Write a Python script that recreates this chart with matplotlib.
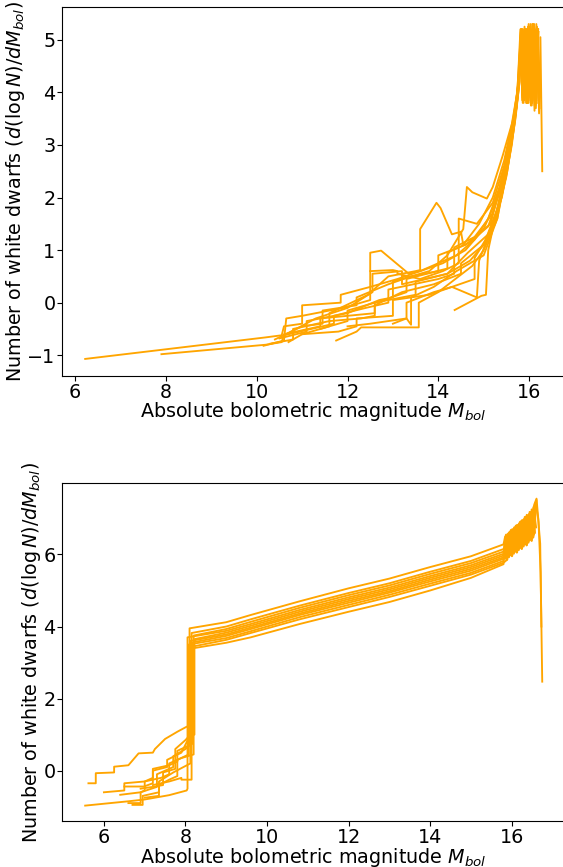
import matplotlib
matplotlib.use("Agg")
import matplotlib.pyplot as plt

# ---- upper panel: stepped luminosity-function runs ----
t1_x = [6.22, 10.2, 10.55, 10.6, 11.0, 11.0, 11.9, 12.5, 12.5, 13.1, 13.6, 14.0, 14.4, 14.8, 15.1, 15.35, 15.58, 15.72, 15.81,
        15.84, 15.88, 15.93, 15.97, 16.02, 16.06, 16.11, 16.15, 16.20]
t1_y = [-1.07, -0.66, -0.62, -0.45, -0.4, -0.25, -0.1, 0.05, 0.3, 0.45, 0.6, 0.75, 0.9, 1.2, 1.6, 2.2, 3.0, 3.7, 4.6,
        5.15, 3.9, 5.2, 3.85, 5.2, 3.8, 5.25, 3.9, 5.2]

t2_x = [7.9, 10.2, 10.55, 10.6, 11.4, 11.4, 12.6, 12.6, 13.5, 13.5, 14.2, 14.7, 15.0, 15.3, 15.52, 15.7, 15.79,
        15.83, 15.86, 15.9, 15.95, 15.99, 16.04, 16.08, 16.13, 16.17, 16.22, 16.25, 16.29]
t2_y = [-0.98, -0.8, -0.75, -0.6, -0.45, -0.3, -0.2, 0.0, 0.15, 0.4, 0.55, 0.8, 1.1, 1.7, 2.5, 3.5, 4.2,
        5.1, 3.85, 5.15, 3.8, 5.2, 3.75, 5.3, 3.7, 5.25, 3.6, 5.05, 2.5]

t3_x = [10.15, 10.6, 10.65, 11.0, 11.0, 11.85, 11.85, 12.5, 12.5, 12.74, 13.35, 13.6, 14.1, 14.6, 15.0, 15.3, 15.5, 15.68, 15.78,
        15.82, 15.85, 15.89, 15.94, 15.98, 16.03, 16.07, 16.12, 16.16, 16.21]
t3_y = [-0.82, -0.72, -0.3, -0.25, -0.05, 0.0, 0.15, 0.3, 0.95, 0.99, 0.55, 0.6, 0.75, 1.0, 1.4, 2.0, 2.7, 3.5, 4.3,
        5.2, 3.95, 5.15, 3.8, 5.25, 3.85, 5.3, 3.65, 5.2, 3.9]

t4_x = [10.7, 11.0, 11.6, 11.6, 12.45, 12.9, 13.5, 13.6, 13.6, 13.96, 14.05, 14.3, 14.5, 14.55, 14.9, 15.2, 15.45, 15.65, 15.76,
        15.83, 15.87, 15.91, 15.96, 16.0, 16.05, 16.09, 16.14, 16.18]
t4_y = [-0.75, -0.6, -0.45, -0.2, 0.15, 0.5, 0.6, 0.62, 1.4, 1.9, 1.8, 1.3, 1.35, 1.1, 1.5, 2.0, 2.7, 3.5, 4.1,
        5.1, 3.85, 5.2, 3.8, 5.15, 3.9, 5.25, 3.75, 5.2]

t5_x = [10.5, 11.1, 11.1, 12.0, 12.7, 13.0, 13.0, 13.8, 14.2, 14.55, 14.63, 14.75, 15.07, 15.2, 15.42, 15.62, 15.74,
        15.82, 15.86, 15.9, 15.95, 15.99, 16.04, 16.08, 16.13, 16.17, 16.22]
t5_y = [-0.68, -0.55, -0.35, -0.2, 0.05, 0.1, 0.4, 0.6, 0.9, 1.4, 2.2, 2.1, 1.98, 2.2, 2.8, 3.4, 4.0,
        5.15, 3.9, 5.2, 3.85, 5.3, 3.8, 5.2, 3.9, 5.25, 3.8]

t6_x = [11.75, 12.2, 12.3, 13.57, 13.57, 14.0, 14.3, 14.75, 15.0, 15.3, 15.55, 15.7, 15.8,
        15.84, 15.88, 15.92, 15.97, 16.01, 16.06, 16.1, 16.15, 16.19, 16.23]
t6_y = [-0.72, -0.55, -0.47, -0.47, 0.0, 0.2, 0.4, 0.7, 1.0, 1.6, 2.8, 3.6, 4.5,
        5.2, 3.8, 5.1, 3.9, 5.2, 3.75, 5.3, 3.85, 5.2, 3.7]

t7_x = [14.36, 14.95, 15.05, 15.1, 15.3, 15.48, 15.66, 15.77,
        15.83, 15.87, 15.91, 15.96, 16.0, 16.05, 16.09, 16.14]
t7_y = [-0.14, 0.13, 0.15, 1.0, 1.8, 2.5, 3.4, 4.1,
        5.05, 3.9, 5.2, 3.85, 5.15, 3.8, 5.2, 3.9]

t8_x = [13.0, 13.3, 13.3, 13.9, 14.3, 14.85, 14.9, 15.25, 15.5, 15.7, 15.79,
        15.84, 15.88, 15.93, 15.97, 16.02, 16.06, 16.11, 16.15, 16.2]
t8_y = [-0.4, -0.3, 0.0, 0.2, 0.3, 0.1, 0.8, 1.6, 2.5, 3.7, 4.4,
        5.2, 3.9, 5.2, 3.8, 5.15, 3.85, 5.3, 3.7, 5.2]

t9_x = [10.4, 11.0, 11.45, 11.45, 12.2, 12.2, 12.9, 13.4, 14.0, 14.0, 14.6, 15.15, 15.4, 15.62, 15.75,
        15.82, 15.86, 15.9, 15.95, 15.99, 16.04, 16.08, 16.13, 16.17]
t9_y = [-0.7, -0.45, -0.4, -0.15, -0.05, 0.1, 0.35, 0.5, 0.6, 0.9, 1.1, 1.5, 2.3, 3.2, 4.0,
        5.1, 3.8, 5.25, 3.9, 5.2, 3.8, 5.15, 3.85, 5.2]

t10_x = [10.3, 10.8, 10.8, 11.6, 12.3, 12.6, 12.6, 13.2, 13.9, 14.5, 14.5, 15.0, 15.35, 15.58, 15.73,
         15.81, 15.85, 15.89, 15.94, 15.98, 16.03, 16.07, 16.12, 16.16, 16.21]
t10_y = [-0.78, -0.7, -0.5, -0.35, -0.3, -0.25, -0.05, 0.2, 0.35, 0.55, 0.75, 1.1, 1.9, 2.9, 3.8,
         5.2, 3.85, 5.2, 3.8, 5.25, 3.9, 5.2, 3.75, 5.3, 3.85]

t11_x = [12.5, 13.0, 13.1, 13.1, 13.6, 14.1, 14.45, 14.45, 14.85, 15.2, 15.45, 15.66, 15.78,
         15.83, 15.87, 15.91, 15.96, 16.0, 16.05, 16.09, 16.14]
t11_y = [0.6, 0.62, 0.6, 0.55, 0.45, 0.6, 0.75, 1.6, 1.5, 1.9, 2.6, 3.5, 4.3,
         5.2, 3.9, 5.15, 3.8, 5.2, 3.85, 5.25, 3.8]

t12_x = [11.0, 11.8, 12.2, 12.2, 13.0, 13.0, 13.8, 14.3, 14.8, 14.8, 15.25, 15.5, 15.68, 15.79,
         15.84, 15.88, 15.92, 15.97, 16.01, 16.06, 16.1, 16.15, 16.19]
t12_y = [-0.6, -0.55, -0.45, -0.3, -0.25, 0.05, 0.15, 0.3, 0.45, 0.85, 1.5, 2.4, 3.4, 4.2,
         5.15, 3.85, 5.2, 3.9, 5.25, 3.8, 5.2, 3.85, 5.2]

t13_x = [10.65, 11.3, 12.0, 12.55, 12.55, 13.2, 13.2, 13.7, 14.2, 14.65, 15.1, 15.4, 15.62, 15.76,
         15.82, 15.86, 15.9, 15.95, 15.99, 16.04, 16.08, 16.13]
t13_y = [-0.6, -0.3, -0.1, 0.2, 0.55, 0.6, 0.35, 0.45, 0.55, 0.95, 1.3, 2.0, 3.0, 4.0,
         5.2, 3.9, 5.15, 3.8, 5.25, 3.85, 5.2, 3.8]

t14_x = [12.0, 12.5, 12.9, 13.3, 13.4, 13.4, 13.9, 14.4, 15.0, 15.3, 15.55, 15.72, 15.8,
         15.85, 15.89, 15.94, 15.98, 16.03, 16.07, 16.12, 16.16, 16.21]
t14_y = [-0.45, -0.4, -0.35, -0.3, -0.42, 0.1, 0.3, 0.6, 0.9, 1.6, 2.7, 3.7, 4.6,
         5.2, 3.85, 5.2, 3.9, 5.3, 3.8, 5.2, 3.85, 5.15]

t15_x = [11.4, 12.0, 12.0, 12.8, 13.3, 13.3, 13.75, 14.2, 14.2, 14.7, 15.1, 15.35, 15.6, 15.75,
         15.84, 15.88, 15.93, 15.97, 16.02, 16.06, 16.11]
t15_y = [-0.5, -0.35, -0.15, 0.05, 0.2, 0.45, 0.55, 0.65, 0.95, 1.15, 1.45, 2.1, 3.1, 3.9,
         5.2, 3.85, 5.2, 3.8, 5.2, 3.85, 5.25]

t16_x = [10.6, 11.2, 11.7, 11.7, 12.4, 12.9, 12.9, 13.45, 14.0, 14.35, 14.35, 14.8, 15.2, 15.45, 15.67, 15.78,
         15.85, 15.9, 15.94, 15.99, 16.03, 16.08, 16.12, 16.17]
t16_y = [-0.62, -0.5, -0.4, -0.25, -0.1, 0.0, 0.25, 0.35, 0.45, 0.55, 1.05, 1.25, 1.7, 2.5, 3.4, 4.2,
         5.2, 3.9, 5.2, 3.8, 5.25, 3.85, 5.2, 3.8]

top_runs = [(t1_x, t1_y), (t2_x, t2_y), (t3_x, t3_y), (t4_x, t4_y), (t5_x, t5_y),
            (t6_x, t6_y), (t7_x, t7_y), (t8_x, t8_y), (t9_x, t9_y), (t10_x, t10_y),
            (t11_x, t11_y), (t12_x, t12_y), (t13_x, t13_y), (t14_x, t14_y),
            (t15_x, t15_y), (t16_x, t16_y)]

# ---- lower panel ----
b1_x = [6.6, 6.9, 6.9, 7.3, 7.3, 7.7, 7.7, 8.0, 8.1,
        8.1, 9.0, 9.6, 10.8, 12.0, 13.0, 14.0, 15.0, 15.8,
        15.84, 15.9, 15.96, 16.02, 16.08, 16.14, 16.2, 16.26, 16.32, 16.38, 16.44, 16.5, 16.56, 16.61,
        16.66, 16.71, 16.75]
b1_y = [-0.9, -0.9, -0.6, -0.45, -0.1, 0.1, 0.4, 0.6, 0.7,
        3.95, 4.12, 4.32, 4.7, 5.06, 5.33, 5.65, 5.95, 6.28,
        6.5, 5.95, 6.64, 6.05, 6.76, 6.15, 6.9, 6.25, 7.04, 6.35, 7.18, 6.48, 7.4, 7.55,
        6.9, 5.5, 2.47]

b2_x = [5.62, 5.8, 5.8, 6.25, 6.25, 6.6, 6.85, 7.2, 7.25, 7.5, 7.8, 8.03, 8.15,
        8.15, 9.0, 9.6, 10.8, 12.0, 13.0, 14.0, 15.0, 15.8,
        15.87, 15.93, 15.99, 16.05, 16.11, 16.17, 16.23, 16.29, 16.35, 16.41, 16.47, 16.53, 16.59, 16.65, 16.7, 16.73]
b2_y = [-0.35, -0.35, -0.07, -0.05, 0.11, 0.15, 0.48, 0.5, 0.6, 0.88, 1.08, 1.22, 1.25,
        3.82, 4.0, 4.2, 4.58, 4.93, 5.2, 5.52, 5.82, 6.15,
        5.9, 6.6, 6.0, 6.72, 6.1, 6.84, 6.2, 6.97, 6.3, 7.1, 6.42, 7.3, 7.45, 7.0, 6.3, 4.0]

b3_x = [6.4, 6.9, 7.0, 7.0, 7.4, 7.6, 7.6, 7.9, 8.2,
        8.2, 9.0, 9.6, 10.8, 12.0, 13.0, 14.0, 15.0, 15.8,
        15.86, 15.92, 15.98, 16.04, 16.1, 16.16, 16.22, 16.28, 16.34, 16.4, 16.46, 16.52, 16.58]
b3_y = [-0.67, -0.6, -0.55, -0.3, -0.2, -0.1, 0.2, 0.35, 0.45,
        3.75, 3.93, 4.13, 4.52, 4.87, 5.14, 5.46, 5.76, 6.08,
        6.55, 5.93, 6.68, 6.03, 6.8, 6.14, 6.92, 6.24, 7.05, 6.33, 7.18, 6.46, 7.35]

b4_x = [5.54, 6.6, 7.0, 7.6, 8.03, 8.05,
        8.05, 9.0, 9.6, 10.8, 12.0, 13.0, 14.0, 15.0, 15.8,
        15.88, 15.94, 16.0, 16.06, 16.12, 16.18, 16.24, 16.3, 16.36, 16.42, 16.48, 16.54, 16.6]
b4_y = [-0.97, -0.85, -0.8, -0.68, -0.55, -0.5,
        3.7, 3.88, 4.07, 4.46, 4.81, 5.08, 5.4, 5.7, 6.02,
        5.95, 6.62, 6.02, 6.75, 6.1, 6.86, 6.2, 6.98, 6.3, 7.12, 6.45, 7.28, 6.75]

b5_x = [6.5, 6.98, 7.2, 7.2, 7.55, 7.55, 7.9, 8.1, 8.22,
        8.22, 9.0, 9.6, 10.8, 12.0, 13.0, 14.0, 15.0, 15.8,
        15.85, 15.91, 15.97, 16.03, 16.09, 16.15, 16.21, 16.27, 16.33, 16.39, 16.45, 16.51, 16.57]
b5_y = [-0.44, -0.44, -0.35, 0.0, 0.1, 0.3, 0.5, 0.95, 1.0,
        3.65, 3.83, 4.02, 4.41, 4.76, 5.03, 5.35, 5.65, 5.97,
        5.88, 6.58, 5.98, 6.7, 6.08, 6.82, 6.18, 6.95, 6.28, 7.08, 6.4, 7.22, 6.6]

b6_x = [6.7, 6.95, 6.95, 7.35, 7.35, 7.7, 7.95, 8.12,
        8.12, 9.0, 9.6, 10.8, 12.0, 13.0, 14.0, 15.0, 15.8,
        15.89, 15.95, 16.01, 16.07, 16.13, 16.19, 16.25, 16.31, 16.37, 16.43, 16.49, 16.55, 16.61]
b6_y = [-0.95, -0.95, -0.7, -0.6, -0.3, -0.05, 0.1, 0.2,
        3.6, 3.78, 3.97, 4.36, 4.71, 4.98, 5.3, 5.6, 5.92,
        6.56, 5.96, 6.7, 6.06, 6.82, 6.16, 6.95, 6.27, 7.1, 6.38, 7.25, 6.55, 7.5]

b7_x = [6.0, 6.5, 6.5, 7.0, 7.2, 7.2, 7.6, 7.8, 7.8, 8.18,
        8.18, 9.0, 9.6, 10.8, 12.0, 13.0, 14.0, 15.0, 15.8,
        15.845, 15.905, 15.965, 16.025, 16.085, 16.145, 16.205, 16.265, 16.325, 16.385, 16.445, 16.505, 16.565]
b7_y = [-0.6, -0.55, -0.35, -0.3, -0.2, 0.05, 0.15, 0.25, 0.55, 0.75,
        3.56, 3.74, 3.93, 4.32, 4.66, 4.94, 5.25, 5.55, 5.88,
        5.9, 6.54, 6.0, 6.66, 6.1, 6.78, 6.2, 6.9, 6.3, 7.05, 6.42, 7.2, 6.62]

b8_x = [7.0, 7.35, 7.35, 7.6, 7.8, 7.8, 8.08,
        8.08, 9.0, 9.6, 10.8, 12.0, 13.0, 14.0, 15.0, 15.8,
        15.875, 15.935, 15.995, 16.055, 16.115, 16.175, 16.235, 16.295, 16.355, 16.415, 16.475, 16.535, 16.595]
b8_y = [-0.75, -0.7, -0.4, -0.25, -0.15, 0.3, 0.45,
        3.5, 3.68, 3.87, 4.26, 4.6, 4.88, 5.19, 5.49, 5.82,
        6.5, 5.92, 6.62, 6.02, 6.74, 6.12, 6.86, 6.22, 7.0, 6.33, 7.14, 6.48, 7.38]

b9_x = [6.9, 7.2, 7.45, 7.45, 7.75, 7.75, 8.0, 8.2,
        8.2, 9.0, 9.6, 10.8, 12.0, 13.0, 14.0, 15.0, 15.8,
        15.895, 15.955, 16.015, 16.075, 16.135, 16.195, 16.255, 16.315, 16.375, 16.435, 16.495, 16.555]
b9_y = [-0.5, -0.45, -0.4, -0.05, 0.05, 0.6, 0.85, 1.1,
        3.45, 3.63, 3.82, 4.2, 4.54, 4.82, 5.13, 5.44, 5.77,
        5.86, 6.6, 5.96, 6.72, 6.06, 6.84, 6.16, 6.97, 6.26, 7.1, 6.38, 7.26]

b10_x = [7.2, 7.6, 7.9, 7.9, 8.15,
         8.15, 9.0, 9.6, 10.8, 12.0, 13.0, 14.0, 15.0, 15.8,
         15.825, 15.885, 15.945, 16.005, 16.065, 16.125, 16.185, 16.245, 16.305, 16.365, 16.425, 16.485, 16.545]
b10_y = [-0.4, -0.3, -0.2, -0.25, -0.25,
         3.39, 3.55, 3.7, 4.07, 4.41, 4.68, 5.0, 5.35, 5.73,
         6.3, 5.85, 6.5, 5.95, 6.62, 6.05, 6.75, 6.15, 6.88, 6.25, 7.02, 6.38, 7.2]

bottom_runs = [(b1_x, b1_y), (b2_x, b2_y), (b3_x, b3_y), (b4_x, b4_y), (b5_x, b5_y),
               (b6_x, b6_y), (b7_x, b7_y), (b8_x, b8_y), (b9_x, b9_y), (b10_x, b10_y)]

xlabel = r"Absolute bolometric magnitude $M_{bol}$"
ylabel = r"Number of white dwarfs $(d(\log N)/dM_{bol})$"

plt.rcParams["font.size"] = 13.8
plt.rcParams["xtick.major.pad"] = 1.5
plt.rcParams["ytick.major.pad"] = 1.5

fig = plt.figure(figsize=(5.63, 8.67), dpi=100)
ax1 = fig.add_axes([0.1107, 0.5667, 0.893, 0.4249])
ax2 = fig.add_axes([0.1107, 0.0531, 0.893, 0.3895])

for x, y in top_runs:
    ax1.plot(x, y, color="orange", lw=1.35)
for x, y in bottom_runs:
    ax2.plot(x, y, color="orange", lw=1.35)

for ax in (ax1, ax2):
    ax.set_xlabel(xlabel, labelpad=-1)
    ax.set_ylabel(ylabel, labelpad=0)

fig.savefig("out.png", dpi=100)
